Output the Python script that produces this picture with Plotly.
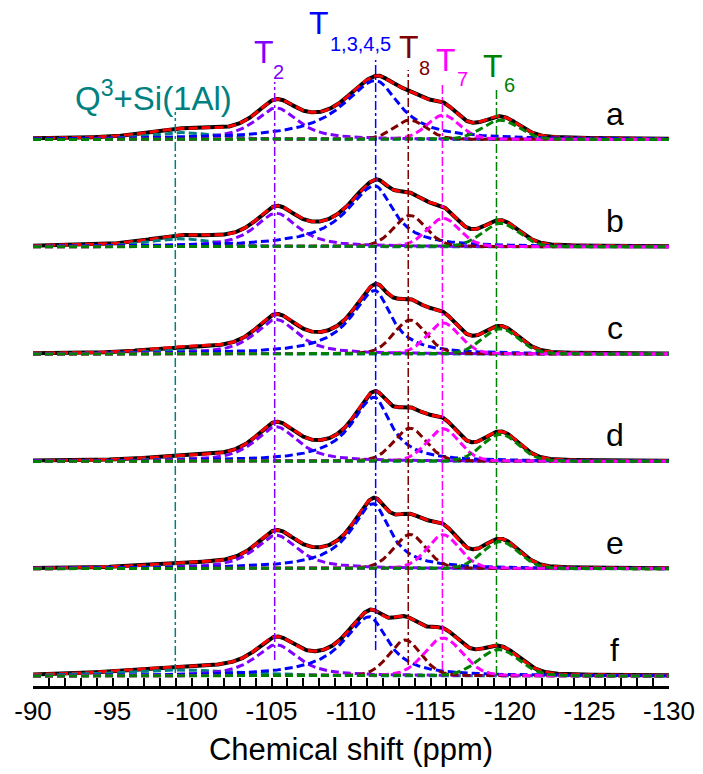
import numpy as np
import plotly.graph_objects as go

# ---------------- data ----------------
spectra = ["a", "b", "c", "d", "e", "f"]
components = ["Q3+Si(1Al)", "T2", "T1,3,4,5", "T8", "T7", "T6"]

# Q3 + Si(1Al)
h_Q3 = [7, 8, 4, 3, 3, 6]
c_Q3 = [-99.3, -99.3, -99.3, -99.3, -99.3, -99.3]
w_Q3 = [5.0, 5.0, 5.0, 5.0, 5.0, 9.0]
# T2
h_T2 = [31.6, 33.6, 34.6, 34.6, 33.5, 31.3]
c_T2 = [-105.3, -105.3, -105.3, -105.3, -105.3, -105.3]
w_T2 = [3.2, 3.2, 3.2, 3.2, 3.2, 3.2]
# T1,3,4,5 (asymmetric: low-field / high-field widths)
h_T1345 = [58.9, 61.0, 63.5, 64.1, 64.9, 59.2]
c_T1345 = [-111.55, -111.5, -111.5, -111.45, -111.4, -111.15]
wl_T1345 = [5.0, 4.3, 3.6, 3.4, 3.4, 3.9]
wr_T1345 = [3.6, 2.8, 2.5, 2.5, 2.5, 2.8]
# T8
h_T8 = [19.4, 31.4, 34.0, 33.2, 34.2, 36.0]
c_T8 = [-113.7, -113.7, -113.7, -113.7, -113.7, -113.4]
w_T8 = [2.4, 2.4, 2.4, 2.4, 2.4, 2.4]
# T7
h_T7 = [24.4, 28.5, 31.2, 32.6, 33.9, 38.0]
c_T7 = [-115.8, -115.8, -115.8, -115.8, -115.8, -115.8]
w_T7 = [2.4, 2.4, 2.4, 2.4, 2.4, 2.8]
# T6
h_T6 = [19.3, 23.5, 25.4, 27.1, 27.1, 26.5]
c_T6 = [-119.4, -119.4, -119.4, -119.4, -119.4, -119.3]
w_T6 = [2.7, 2.7, 2.7, 2.7, 2.7, 3.0]

lorentz_frac = [0.4, 0.8, 1.0, 0.2, 0.2, 0.1]
ref_lines = [-98.95, -105.2, -111.55, -113.6, -115.75, -119.15]
x_ticks = [-90, -95, -100, -105, -110, -115, -120, -125, -130]

colors = ["#008080", "#8000FF", "#0000FF", "#800000", "#FF00FF", "#008000"]
SPACING = 107.3

x = np.linspace(-90, -130, 1201)


def pv(xx, c, h, wl, wr, eta):
    w = np.where(xx > c, wl, wr)
    L = 1.0 / (1.0 + (2 * (xx - c) / w) ** 2)
    G = np.exp(-4 * np.log(2) * ((xx - c) / w) ** 2)
    return h * (eta * L + (1 - eta) * G)


fig = go.Figure()
dash = "8px,4px"
F = "Liberation Sans, Arial"
for i, s in enumerate(spectra):
    off = (5 - i) * SPACING
    comps = [
        pv(x, c_Q3[i], h_Q3[i], w_Q3[i], w_Q3[i], lorentz_frac[0]),
        pv(x, c_T2[i], h_T2[i], w_T2[i], w_T2[i], lorentz_frac[1]),
        pv(x, c_T1345[i], h_T1345[i], wl_T1345[i], wr_T1345[i], lorentz_frac[2]),
        pv(x, c_T8[i], h_T8[i], w_T8[i], w_T8[i], lorentz_frac[3]),
        pv(x, c_T7[i], h_T7[i], w_T7[i], w_T7[i], lorentz_frac[4]),
        pv(x, c_T6[i], h_T6[i], w_T6[i], w_T6[i], lorentz_frac[5]),
    ]
    total = np.sum(comps, axis=0)
    fig.add_trace(go.Scatter(x=x, y=total + off, mode="lines",
                             line=dict(color="black", width=4), showlegend=False))
    fig.add_trace(go.Scatter(x=x, y=total + off, mode="lines",
                             line=dict(color="#FF0000", width=3, dash="9px,4px"), showlegend=False))
    for k in range(6):
        fig.add_trace(go.Scatter(x=x, y=comps[k] + off, mode="lines",
                                 line=dict(color=colors[k], width=3, dash=dash),
                                 showlegend=False))
    fig.add_annotation(x=-126.6, y=off + 26, text=s, showarrow=False,
                       font=dict(size=32, color="black", family=F),
                       xanchor="center", yanchor="middle")

# vertical reference lines (top, bottom in plot units)
line_top = [564, 594, 616, 606, 593, 586]
line_bot = [3, 16, 26, 11, 6, 1]
for k in range(6):
    fig.add_shape(type="line", x0=ref_lines[k], x1=ref_lines[k], y0=line_bot[k], y1=line_top[k],
                  xref="x", yref="y", line=dict(color=colors[k], width=1.5, dash="dashdot"))

labels = [
    (-97.6, 580, "Q<sup>3</sup>+Si(1Al)", 33, colors[0]),
    (-104.5, 624, "T", 32, colors[1]),
    (-105.45, 604, "2", 20, colors[1]),
    (-108.0, 653, "T", 32, colors[2]),
    (-110.6, 632, "1,3,4,5", 20, colors[2]),
    (-113.65, 629, "T", 32, colors[3]),
    (-114.6, 608, "8", 20, colors[3]),
    (-116.0, 616, "T", 32, colors[4]),
    (-117.0, 597, "7", 20, colors[4]),
    (-118.9, 610, "T", 32, colors[5]),
    (-119.95, 591, "6", 20, colors[5]),
]
for xx, yy, t, sz, col in labels:
    fig.add_annotation(x=xx, y=yy, text=t, showarrow=False, xanchor="center",
                       yanchor="middle", font=dict(size=sz, color=col, family=F))

fig.update_layout(
    width=703, height=774,
    margin=dict(l=33, r=34, t=0, b=88),
    plot_bgcolor="white", paper_bgcolor="white",
    font=dict(family=F, color="black"),
)
fig.update_xaxes(range=[-90, -130], tickvals=x_ticks,
                 ticktext=[str(v) for v in x_ticks],
                 ticks="inside", ticklen=8, tickwidth=1.5, tickcolor="black",
                 minor=dict(dtick=1, ticks="inside", ticklen=8, tickwidth=1.5, tickcolor="black", tick0=-90),
                 showline=True, linecolor="black", linewidth=2.5, mirror=False,
                 showgrid=False, zeroline=False,
                 tickfont=dict(size=26, color="black", family=F),
                 title=dict(text="Chemical shift (ppm)", font=dict(size=31, color="black", family=F), standoff=14))
fig.update_yaxes(range=[-10, 676], visible=False, showgrid=False, zeroline=False)

fig.write_html("out.html")
